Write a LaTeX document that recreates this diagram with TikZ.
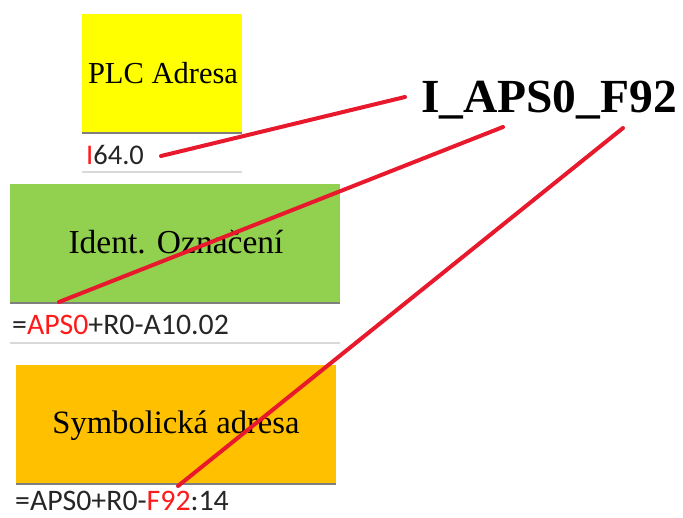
\documentclass[tikz,border=0pt]{standalone}
\usepackage{fontspec}
\setmainfont{Liberation Serif}
\newfontfamily\cellfont{Carlito}
\definecolor{boxyellow}{HTML}{FFFF00}
\definecolor{boxgreen}{HTML}{92D050}
\definecolor{boxorange}{HTML}{FFC000}
\definecolor{linered}{HTML}{E8192C}
\definecolor{txtred}{HTML}{FF1A1A}
\definecolor{rulegray}{HTML}{7F7F7F}
\definecolor{lightgray}{HTML}{D9D9D9}
\begin{document}
\begin{tikzpicture}[x=1pt,y=-1pt,
  header/.style={inner sep=0pt,anchor=base,font=\fontsize{#1}{#1}\selectfont},
  celltext/.style={inner sep=0pt,anchor=base west,font=\cellfont\fontsize{#1}{#1}\selectfont,text=black!85},
  darkrule/.style={draw=rulegray,line width=1.6pt},
  lightrule/.style={draw=lightgray,line width=1.5pt},
  redlink/.style={draw=linered,line width=4pt,line cap=round}]
\useasboundingbox (0,0) rectangle (683,517);
% boxes
\fill[boxyellow] (82,14) rectangle (242,133);
\fill[boxgreen] (10,184) rectangle (340,303);
\fill[boxorange] (16,365) rectangle (336,484);
\draw[darkrule] (82,133) -- (242,133);
\draw[darkrule] (10,303) -- (340,303);
\draw[darkrule] (16,484) -- (336,484);
\draw[lightrule] (82,172) -- (242,172);
\draw[lightrule] (10,343) -- (340,343);
% header texts
\node[header=30.5] (plc) at (163,83) {PLC Adresa};
\node[header=33.5] (ident) at (176,253) {Ident. Označení};
\node[header=32.6] (symb) at (176,433) {Symbolická adresa};
% cell texts
\node[celltext=28.5] (addr) at (86,164) {\textcolor{txtred}{I}64.0};
\node[celltext=29.8] (ident2) at (12,334) {=\textcolor{txtred}{APS0}+R0-A10.02};
\node[celltext=29.8] (symb2) at (15,510) {=APS0+R0-\textcolor{txtred}{F92}:14};
% big label
\node[inner sep=0pt,anchor=base,font=\bfseries\fontsize{47.5}{47.5}\selectfont] (big) at (549,112) {I\_APS0\_F92};
% link endpoints
\coordinate (a1) at (161,156);
\coordinate (b1) at (405,97);
\coordinate (a2) at (59,302);
\coordinate (b2) at (503,127);
\coordinate (a3) at (178,486);
\coordinate (b3) at (623,128);
\draw[redlink] (a1) -- (b1);
\draw[redlink] (a2) -- (b2);
\draw[redlink] (a3) -- (b3);
\end{tikzpicture}
\end{document}
